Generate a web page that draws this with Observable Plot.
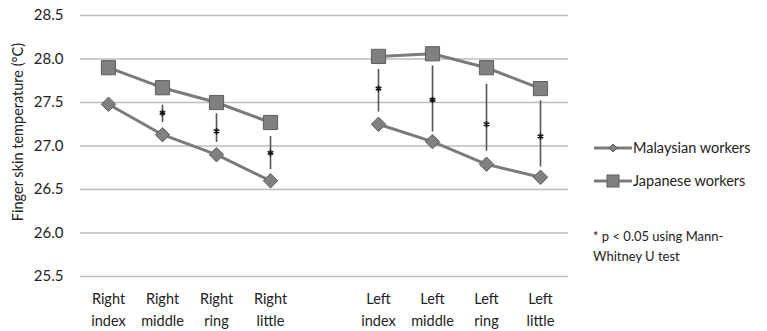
<!DOCTYPE html>
<html><head><meta charset="utf-8">
<script src="https://cdn.jsdelivr.net/npm/d3@7"></script>
<script src="https://cdn.jsdelivr.net/npm/@observablehq/plot@0.6"></script>
<style>
body{margin:0;background:#fff;font-family:Lato,"Open Sans",sans-serif;color:#222;}
#wrap{position:relative;width:767px;height:331px;overflow:hidden;}
.leg{position:absolute;left:594px;font-size:14.5px;display:flex;align-items:center;white-space:nowrap;}
.leg svg{margin-right:1px;}
.note{position:absolute;left:593px;top:226px;font-size:13px;line-height:20px;}
</style></head><body><div id="wrap"></div>
<script>
const categories = ["Right\nindex","Right\nmiddle","Right\nring","Right\nlittle","Left\nindex","Left\nmiddle","Left\nring","Left\nlittle"];
const sides = ["Right","Right","Right","Right","Left","Left","Left","Left"];
const gapLabel = " ";
const malaysian = [27.48,27.13,26.90,26.60,27.25,27.05,26.79,26.64];
const japanese  = [27.90,27.67,27.50,27.27,28.03,28.06,27.90,27.66];
const sigLow  = [null,27.27,27.04,26.73,27.39,27.16,26.94,26.76];
const sigHigh = [null,27.47,27.37,27.11,27.88,27.92,27.71,27.52];
const sigMark = [null,27.38,27.17,26.92,27.66,27.53,27.25,27.11];
const yTicks = [25.5,26.0,26.5,27.0,27.5,28.0,28.5];
const seriesNames = ["Malaysian workers","Japanese workers"];
const yTitle = "Finger skin temperature (°C)";

const xDomain = [...categories.slice(0,4), gapLabel, ...categories.slice(4)];
const rows = [];
categories.forEach((c,i)=>{
  rows.push({cat:c, side:sides[i], series:seriesNames[0], v:malaysian[i]});
  rows.push({cat:c, side:sides[i], series:seriesNames[1], v:japanese[i]});
});
const sig = categories.map((c,i)=>({cat:c, lo:sigLow[i], hi:sigHigh[i], m:sigMark[i]})).filter(d=>d.m!=null);

const lineColor = "#7b7b7b", fillColor = "#808080", edge = "#5e5e5e";

const chart = Plot.plot({
  width:767, height:331,
  marginLeft:80, marginRight:199, marginTop:15, marginBottom:55,
  style:{fontFamily:"Lato, 'Open Sans', sans-serif", fontSize:"14px", color:"#222", background:"#fff"},
  x:{type:"point", domain:xDomain, padding:0.5},
  y:{domain:[25.5,28.5]},
  marks:[
    Plot.gridY(yTicks,{stroke:"#bdbdbd", strokeOpacity:1, strokeWidth:1.5}),
    Plot.axisY(yTicks,{tickSize:0, tickPadding:17, tickFormat:d=>d.toFixed(1), fontSize:15, label:null}),
    Plot.text([yTitle],{frameAnchor:"left", textAnchor:"middle", dx:-62, dy:-14, rotate:-90, fontSize:14.5, fill:"#222"}),
    Plot.axisX({tickSize:0, tickPadding:12, fontSize:14.5, lineHeight:1.5, label:null}),
    Plot.ruleX(sig,{x:"cat", y1:"lo", y2:"hi", stroke:"#555", strokeWidth:1.6}),
    Plot.dot(sig,{x:"cat", y:"m", symbol:"asterisk", r:3, stroke:"#111", strokeWidth:1.6}),
    Plot.line(rows,{x:"cat", y:"v", z:d=>d.series+d.side, stroke:lineColor, strokeWidth:3}),
    Plot.dot(rows.filter(d=>d.series===seriesNames[0]),{x:"cat", y:"v", symbol:"diamond2", r:6.5, fill:fillColor, stroke:edge, strokeWidth:1}),
    Plot.dot(rows.filter(d=>d.series===seriesNames[1]),{x:"cat", y:"v", symbol:"square", r:8, fill:fillColor, stroke:edge, strokeWidth:1})
  ]
});
const wrap = document.getElementById("wrap");
wrap.appendChild(chart);

function legendItem(name, top, shape){
  const d = document.createElement("div");
  d.className = "leg"; d.style.top = top + "px";
  const marker = shape === "diamond"
    ? `<path d="M19,4 L23,8 L19,12 L15,8 Z" fill="${fillColor}" stroke="${edge}"/>`
    : `<rect x="13" y="2" width="12" height="12" fill="${fillColor}" stroke="${edge}"/>`;
  d.innerHTML = `<svg width="38" height="16"><line x1="0" y1="8" x2="38" y2="8" stroke="${lineColor}" stroke-width="3"/>${marker}</svg><span>${name}</span>`;
  wrap.appendChild(d);
}
legendItem(seriesNames[0], 139, "diamond");
legendItem(seriesNames[1], 172, "square");
const note = document.createElement("div");
note.className = "note";
note.innerHTML = "* p &lt; 0.05 using Mann-<br>Whitney U test";
wrap.appendChild(note);
</script></body></html>
